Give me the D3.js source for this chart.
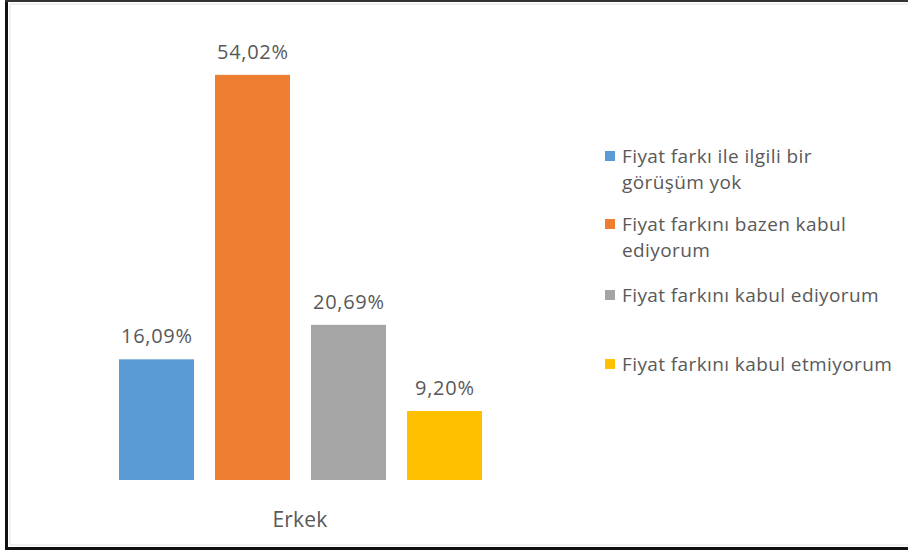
<!DOCTYPE html>
<html><head><meta charset="utf-8">
<script src="https://cdn.jsdelivr.net/npm/d3@7"></script>
<style>html,body{margin:0;padding:0;background:#fff;}svg{display:block;}</style>
</head><body>
<svg id="c" width="908" height="550"></svg>
<script>
const categories = ["Erkek"];
const seriesNames = [
  ["Fiyat farkı ile ilgili bir", "görüşüm yok"],
  ["Fiyat farkını bazen kabul", "ediyorum"],
  ["Fiyat farkını kabul ediyorum"],
  ["Fiyat farkını kabul etmiyorum"]
];
const seriesValues = [16.09, 54.02, 20.69, 9.20];
const seriesLabels = ["16,09%", "54,02%", "20,69%", "9,20%"];
const colors = ["#5B9BD5", "#ED7D31", "#A5A5A5", "#FFC000"];

const svg = d3.select("#c");
const font = "'Open Sans', sans-serif";
const textColor = "#595959";

// frame
svg.append("line").attr("x1",10).attr("x2",908).attr("y1",4).attr("y2",4).attr("stroke","#e3e3e3").attr("stroke-width",1);
svg.append("line").attr("x1",10).attr("x2",908).attr("y1",545).attr("y2",545).attr("stroke","#e3e3e3").attr("stroke-width",1);
svg.append("line").attr("x1",10).attr("x2",10).attr("y1",4).attr("y2",545).attr("stroke","#e3e3e3").attr("stroke-width",1);
svg.append("line").attr("x1",6.5).attr("x2",6.5).attr("y1",0).attr("y2",550).attr("stroke","#111").attr("stroke-width",3);
svg.append("line").attr("x1",5).attr("x2",908).attr("y1",1).attr("y2",1).attr("stroke","#333").attr("stroke-width",2);
svg.append("line").attr("x1",5).attr("x2",908).attr("y1",548.5).attr("y2",548.5).attr("stroke","#111").attr("stroke-width",3);

const y = d3.scaleLinear().domain([0, 60]).range([480, 30]);
const xCat = d3.scaleBand().domain(categories).range([30, 570]);
const xSer = d3.scaleBand().domain(d3.range(seriesValues.length))
  .range([xCat("Erkek") + 89, xCat("Erkek") + xCat.bandwidth() - 88]).paddingInner(0.219).paddingOuter(0);

const g = svg.append("g");
g.selectAll("rect.bar").data(seriesValues).join("rect")
  .attr("class","bar")
  .attr("x",(d,i)=>xSer(i))
  .attr("width",xSer.bandwidth())
  .attr("y",d=>y(d))
  .attr("height",d=>y(0)-y(d))
  .attr("fill",(d,i)=>colors[i]);

g.selectAll("text.lbl").data(seriesValues).join("text")
  .attr("class","lbl")
  .attr("x",(d,i)=>xSer(i)+xSer.bandwidth()/2+0.35)
  .attr("y",d=>y(d)-16)
  .attr("text-anchor","middle")
  .attr("font-family",font).attr("font-size",20).attr("letter-spacing","0.7px").attr("fill",textColor)
  .text((d,i)=>seriesLabels[i]);

// category axis label
const xAxis = d3.axisBottom(xCat).tickSize(0).tickPadding(0);
const ax = svg.append("g").attr("transform","translate(0,512)").call(xAxis);
ax.select(".domain").remove();
ax.selectAll("text").attr("font-family",font).attr("font-size",21).attr("letter-spacing","0.2px").attr("fill",textColor).attr("dy","0.71em");

// legend
const legendY = [[163,189],[231,257],[302],[371]];
const lg = svg.append("g");
seriesNames.forEach((lines,i)=>{
  lg.append("rect").attr("x",605).attr("y",legendY[i][0]-12).attr("width",10).attr("height",10).attr("fill",colors[i]);
  lines.forEach((t,j)=>{
    lg.append("text").attr("x",622).attr("y",legendY[i][j])
      .attr("font-family",font).attr("font-size",19).attr("letter-spacing","0.4px").attr("fill",textColor).text(t);
  });
});
</script>
</body></html>
